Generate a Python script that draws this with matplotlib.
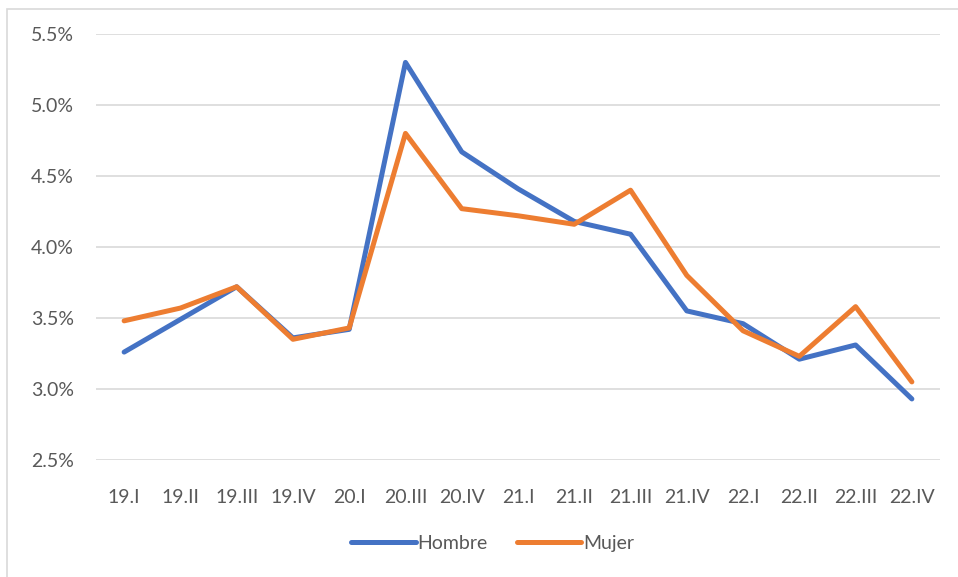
import matplotlib.pyplot as plt
from matplotlib.patches import Rectangle
from matplotlib.ticker import FuncFormatter

plt.rcParams['font.family'] = ['Lato', 'DejaVu Sans']

quarters = ["19.I", "19.II", "19.III", "19.IV", "20.I", "20.III", "20.IV", "21.I",
            "21.II", "21.III", "21.IV", "22.I", "22.II", "22.III", "22.IV"]
hombre = [3.26, 3.49, 3.72, 3.36, 3.42, 5.30, 4.67, 4.41,
          4.18, 4.09, 3.55, 3.46, 3.21, 3.31, 2.93]
mujer = [3.48, 3.57, 3.72, 3.35, 3.43, 4.80, 4.27, 4.22,
         4.16, 4.40, 3.80, 3.41, 3.23, 3.58, 3.05]

fig = plt.figure(figsize=(9.58, 5.77), dpi=100)
ax = fig.add_axes([96 / 958, 1 - 460 / 577, 844 / 958, 426 / 577])

# outer chart frame
fig.patches.append(Rectangle((7 / 958, -0.05), 1.0, 1 - 9 / 577 + 0.05,
                             transform=fig.transFigure, fill=False,
                             edgecolor="#D9D9D9", linewidth=1.2))

x = list(range(len(quarters)))
ax.plot(x, hombre, color="#4472C4", linewidth=3.6, label="Hombre", solid_capstyle="round")
ax.plot(x, mujer, color="#ED7D31", linewidth=3.6, label="Mujer", solid_capstyle="round")

ax.set_xlim(-0.5, len(quarters) - 0.5)
ax.set_ylim(2.5, 5.5)
ax.set_yticks([2.5, 3.0, 3.5, 4.0, 4.5, 5.0, 5.5])
ax.yaxis.set_major_formatter(FuncFormatter(lambda v, p: f"{v:.1f}%"))
ax.set_xticks(x)
ax.set_xticklabels(quarters)

ax.grid(axis="y", color="#D9D9D9", linewidth=1.2)
ax.set_axisbelow(True)
for s in ax.spines.values():
    s.set_visible(False)
ax.tick_params(axis="both", length=0, labelsize=14, colors="#595959")
ax.tick_params(axis="x", pad=21)
ax.tick_params(axis="y", pad=16)

ax.legend(loc="center", bbox_to_anchor=(0.47, -0.195), ncol=2, frameon=False,
          fontsize=14, labelcolor="#595959", handlelength=3.3,
          handletextpad=0.1, columnspacing=1.5)

fig.savefig("out.png", dpi=100)
